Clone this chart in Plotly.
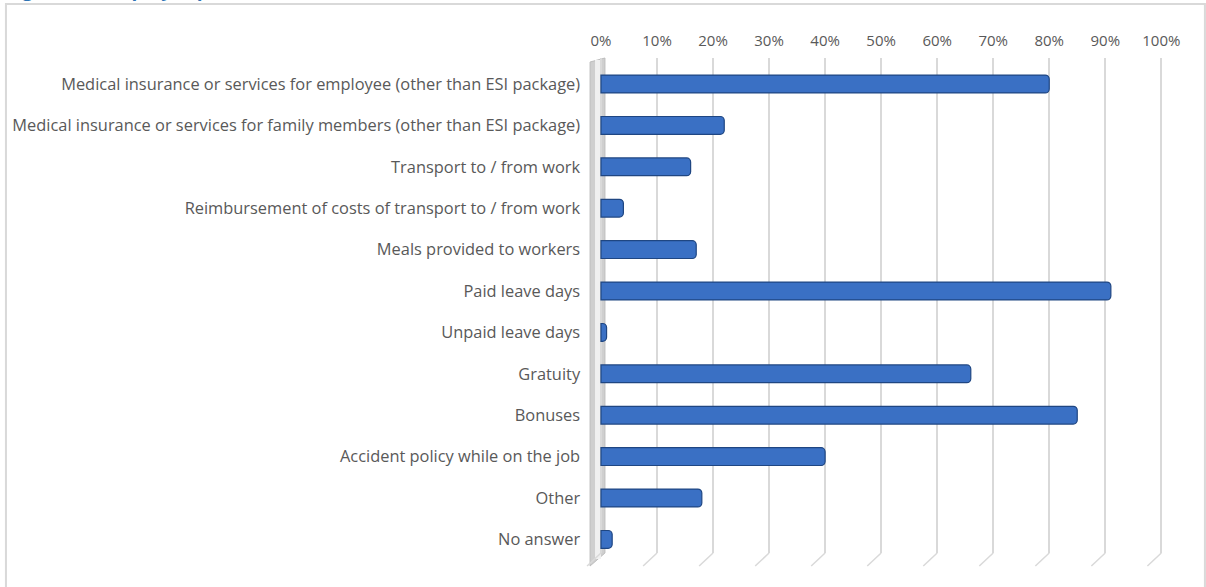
import plotly.graph_objects as go

# Benefits offered by employers (share of respondents)
categories = [
    "Medical insurance or services for employee (other than ESI package)",
    "Medical insurance or services for family members (other than ESI package)",
    "Transport to / from work",
    "Reimbursement of costs of transport to / from work",
    "Meals provided to workers",
    "Paid leave days",
    "Unpaid leave days",
    "Gratuity",
    "Bonuses",
    "Accident policy while on the job",
    "Other",
    "No answer",
]
shares = [0.80, 0.22, 0.16, 0.04, 0.17, 0.91, 0.01, 0.66, 0.85, 0.40, 0.18, 0.02]

tick_values = [i / 10 for i in range(11)]
tick_labels = [f"{i * 10}%" for i in range(11)]

W, H = 1206, 587


def px(x):
    return x / W


def py(y):
    return 1 - y / H


# pixel frame of the plotting area
PL, PR, PT, PB = 590, 1180, 58, 553
X0, X1 = 606, 1171          # pixel positions of 0% and 100%
ROW = 41.4                  # pixel spacing of categories
FIRST = 84                  # pixel centre of first category

x_range = [(PL - X0) / (X1 - X0), (PR - X0) / (X1 - X0)]
y_range = [(PB - FIRST) / ROW, (PT - FIRST) / ROW]

GRID = "#d9d9d9"
TEXT = "#595959"

fig = go.Figure(
    go.Bar(
        x=shares,
        y=categories,
        orientation="h",
        width=0.43,
        marker=dict(color="#3a70c4", line=dict(color="#1f4682", width=1.2)),
        hoverinfo="x+y",
    )
)

shapes = []
# outer frame of the chart area
shapes.append(dict(type="rect", xref="paper", yref="paper",
                   x0=px(6), x1=px(1215), y0=py(4), y1=py(600),
                   line=dict(color=GRID, width=2), fillcolor="rgba(0,0,0,0)",
                   layer="below"))
# side wall on the left of the bars
shapes.append(dict(type="path", xref="paper", yref="paper",
                   path=(f"M {px(595)},{py(PT + 4)} L {px(610)},{py(PT)} "
                         f"L {px(610)},{py(PB)} L {px(595)},{py(PB + 13)} Z"),
                   fillcolor="#cfcfcf", line=dict(color="#bdbdbd", width=1),
                   layer="below"))
shapes.append(dict(type="rect", xref="paper", yref="paper",
                   x0=px(600), x1=px(606), y0=py(PB + 6), y1=py(PT + 2),
                   fillcolor="#f0f0f0", line=dict(width=0), layer="below"))
# floor edges below each gridline
for v in tick_values:
    xp = X0 + v * (X1 - X0)
    shapes.append(dict(type="line", xref="paper", yref="paper",
                       x0=px(xp), y0=py(PB), x1=px(xp - 14), y1=py(PB + 13),
                       line=dict(color=GRID, width=1.5)))

fig.update_layout(
    width=W,
    height=H,
    margin=dict(l=0, r=0, t=0, b=0),
    paper_bgcolor="white",
    plot_bgcolor="rgba(0,0,0,0)",
    showlegend=False,
    bargap=0.57,
    barcornerradius=4,
    font=dict(family="Open Sans", size=16, color=TEXT),
    shapes=shapes,
    annotations=[
        dict(text="<b>Figure 16: Employer provided benefits</b>",
             xref="paper", yref="paper", x=px(4), y=py(4),
             xanchor="left", yanchor="bottom", showarrow=False,
             font=dict(family="Open Sans", size=19, color="#2e74b5")),
    ],
    xaxis=dict(
        domain=[px(PL), px(PR)],
        range=x_range,
        side="top",
        tickmode="array",
        tickvals=tick_values,
        ticktext=tick_labels,
        showgrid=True,
        gridcolor=GRID,
        gridwidth=1.5,
        zeroline=False,
        showline=False,
        ticks="",
        ticklabelstandoff=8,
        tickfont=dict(size=15, color=TEXT),
        fixedrange=True,
    ),
    yaxis=dict(
        domain=[py(PB), py(PT)],
        type="category",
        range=y_range,
        showgrid=False,
        zeroline=False,
        showline=False,
        ticks="",
        ticklabelstandoff=4,
        tickfont=dict(size=16.4, color=TEXT),
        fixedrange=True,
    ),
)

fig.write_html("out.html")
